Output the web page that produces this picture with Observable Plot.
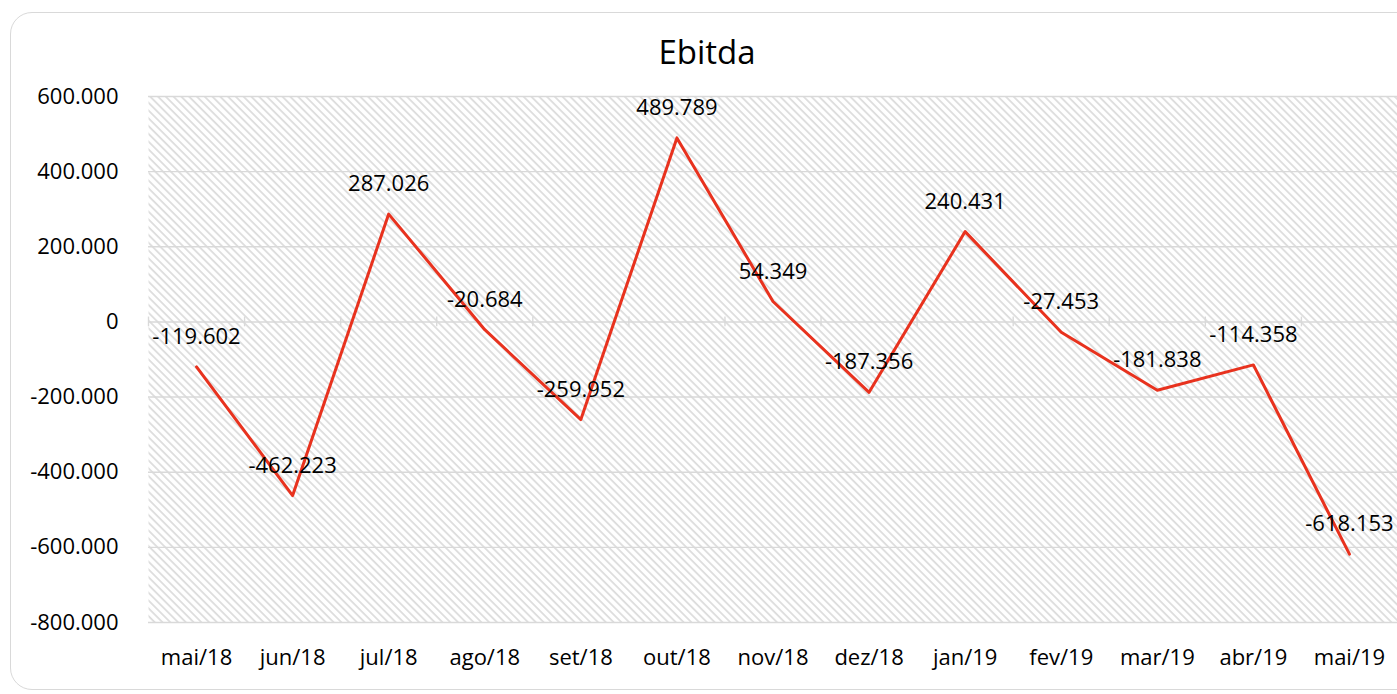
<!DOCTYPE html>
<html>
<head>
<meta charset="utf-8">
<script src="https://cdn.jsdelivr.net/npm/d3@7"></script>
<script src="https://cdn.jsdelivr.net/npm/@observablehq/plot@0.6"></script>
<style>
  html, body { margin: 0; padding: 0; background: #fff; overflow: hidden; }
  #wrap { position: relative; width: 1397px; height: 694px; font-family: "Open Sans", sans-serif; }
  #box { position: absolute; left: 10px; top: 12px; width: 1420px; height: 678px; border: 1.5px solid #d9d9d9; border-radius: 22px; box-sizing: border-box; }
  #title { position: absolute; left: 0; top: 0; width: 1414px; height: 80px; text-align: center; font-size: 33px; line-height: 1; padding-top: 35px; box-sizing: border-box; color: #000; }
  #chart { position: absolute; left: 0; top: 80px; }
</style>
</head>
<body>
<div id="wrap">
  <div id="box"></div>
  <div id="title">Ebitda</div>
  <div id="chart"></div>
</div>
<script>
const months = ["mai/18","jun/18","jul/18","ago/18","set/18","out/18","nov/18","dez/18","jan/19","fev/19","mar/19","abr/19","mai/19"];
const ebitda = [-119602, -462223, 287026, -20684, -259952, 489789, 54349, -187356, 240431, -27453, -181838, -114358, -618153];
const yTicks = [600000, 400000, 200000, 0, -200000, -400000, -600000, -800000];

const locale = d3.formatLocale({decimal: ",", thousands: ".", grouping: [3], currency: ["R$", ""], minus: "-"});
const fmt = locale.format(",d");

const data = months.map((m, i) => ({i, month: m, value: ebitda[i]}));
const boundaries = d3.range(months.length + 1).map(i => i - 0.5);

const svg = Plot.plot({
  width: 1397,
  height: 614,
  marginTop: 16,
  marginBottom: 72,
  marginLeft: 148,
  marginRight: 0,
  style: {fontFamily: "'Open Sans', sans-serif", fontSize: "22px", color: "#000", background: "transparent", overflow: "visible"},
  x: {type: "linear", domain: [-0.5, months.length - 0.5]},
  y: {domain: [-800000, 600000]},
  marks: [
    Plot.frame({fill: "url(#hatch)", stroke: null}),
    Plot.ruleY(yTicks, {stroke: "#d9d9d9", strokeWidth: 1.4}),
    Plot.ruleX(boundaries, {y1: -13000, y2: 13000, stroke: "#d9d9d9", strokeWidth: 1.4}),
    Plot.axisY({ticks: yTicks, tickSize: 0, tickPadding: 30, tickFormat: fmt, fontSize: 22, label: null}),
    Plot.axisX({ticks: d3.range(months.length), tickSize: 0, tickPadding: 27, tickFormat: i => months[i], fontSize: 22, label: null}),
    Plot.line(data, {x: "i", y: "value", stroke: "#e8321e", strokeWidth: 3}),
    Plot.text(data, {x: "i", y: "value", text: d => fmt(d.value), dy: -30, fontSize: 22, fill: "#000"})
  ]
});

d3.select(svg).insert("defs", ":first-child").html(
  '<pattern id="hatch" patternUnits="userSpaceOnUse" width="5.5" height="5.5" patternTransform="rotate(-45)">' +
  '<line x1="1" y1="0" x2="1" y2="5.5" stroke="#dcdcdc" stroke-width="1.8"/></pattern>'
);

document.getElementById("chart").appendChild(svg);
</script>
</body>
</html>
